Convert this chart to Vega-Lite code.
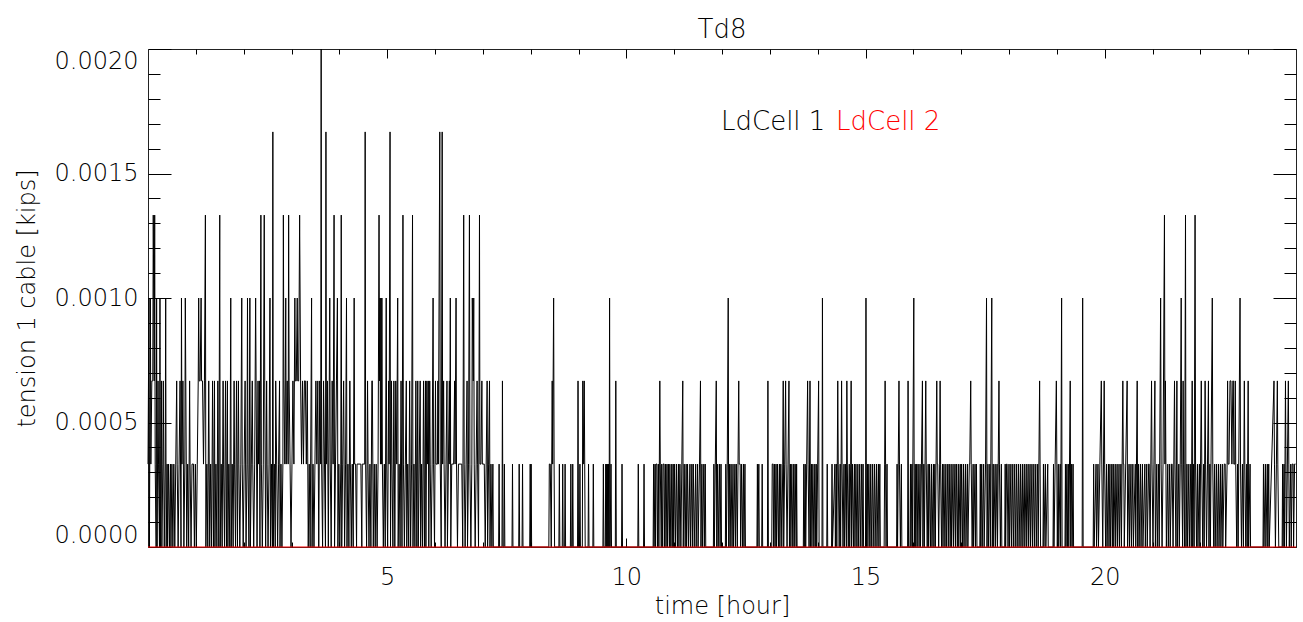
{
"$schema": "https://vega.github.io/schema/vega-lite/v6.json",
"width": 1148, "height": 498,
"autosize": {"type": "none"},
"padding": {"left": 148, "top": 49, "right": 7, "bottom": 75},
"title": {"text": "Td8", "fontSize": 26, "fontWeight": 200, "font": "DejaVu Sans", "color": "#000", "offset": 12, "dy": 8},
"datasets": {
"cell2": [{"t":0,"v":0},{"t":6,"v":0},{"t":12,"v":0},{"t":18,"v":0},{"t":24,"v":0}],
"cell1": [
{"t":0.00,"v":0.000333},{"t":0.02,"v":0.001},{"t":0.03,"v":0},{"t":0.05,"v":0.001},{"t":0.06,"v":0.000333},{"t":0.08,"v":0.000667},{"t":0.10,"v":0.000667},{"t":0.11,"v":0.001333},{"t":0.13,"v":0.000667},{"t":0.14,"v":0.001333},{"t":0.15,"v":0.000333},{"t":0.17,"v":0},{"t":0.18,"v":0.001},{"t":0.19,"v":0},{"t":0.21,"v":0.000667},{"t":0.22,"v":0.000333},{"t":0.24,"v":0},{"t":0.25,"v":0.001},{"t":0.26,"v":0},{"t":0.28,"v":0.000667},{"t":0.29,"v":0},{"t":0.31,"v":0.000333},{"t":0.32,"v":0.000667},{"t":0.34,"v":0},{"t":0.36,"v":0.000333},{"t":0.37,"v":0.001},{"t":0.38,"v":0},{"t":0.40,"v":0.000333},{"t":0.41,"v":0},{"t":0.43,"v":0.000333},{"t":0.45,"v":0},{"t":0.47,"v":0.000333},{"t":0.48,"v":0},{"t":0.50,"v":0.000333},{"t":0.52,"v":0},{"t":0.54,"v":0.000333},{"t":0.56,"v":0},{"t":0.58,"v":0.000333},{"t":0.60,"v":0.000667},{"t":0.61,"v":0.000333},{"t":0.63,"v":0},{"t":0.65,"v":0.000333},{"t":0.67,"v":0.000667},{"t":0.69,"v":0},{"t":0.70,"v":0.001},{"t":0.71,"v":0.000333},{"t":0.73,"v":0.000667},{"t":0.75,"v":0},{"t":0.77,"v":0.000333},{"t":0.78,"v":0.001},{"t":0.79,"v":0.000667},{"t":0.81,"v":0},{"t":0.83,"v":0.000333},{"t":0.85,"v":0},{"t":0.87,"v":0.000667},{"t":0.88,"v":0.000333},{"t":0.90,"v":0},{"t":0.92,"v":0.000333},{"t":0.95,"v":0.000333},{"t":0.97,"v":0},{"t":0.99,"v":0.000333},{"t":1.01,"v":0},
{"t":1.03,"v":0.000333},{"t":1.05,"v":0.000667},{"t":1.06,"v":0.001},{"t":1.07,"v":0.000667},{"t":1.09,"v":0.000667},{"t":1.11,"v":0.001},{"t":1.12,"v":0.000667},{"t":1.14,"v":0.000667},{"t":1.16,"v":0.000333},{"t":1.18,"v":0.000667},{"t":1.20,"v":0.001333},{"t":1.21,"v":0},{"t":1.23,"v":0.000333},{"t":1.25,"v":0},{"t":1.27,"v":0.000667},{"t":1.29,"v":0},{"t":1.31,"v":0.000333},{"t":1.33,"v":0},{"t":1.35,"v":0.000667},{"t":1.37,"v":0},{"t":1.39,"v":0.000667},{"t":1.40,"v":0},{"t":1.42,"v":0.000333},{"t":1.44,"v":0},{"t":1.46,"v":0.000667},{"t":1.48,"v":0},{"t":1.50,"v":0.001333},{"t":1.51,"v":0},{"t":1.53,"v":0.000333},{"t":1.55,"v":0},{"t":1.57,"v":0.000667},{"t":1.58,"v":0.000333},{"t":1.60,"v":0},{"t":1.62,"v":0.000667},{"t":1.64,"v":0},{"t":1.66,"v":0.000667},{"t":1.67,"v":0},{"t":1.69,"v":0.000333},{"t":1.71,"v":0},{"t":1.73,"v":0.001},{"t":1.74,"v":0},{"t":1.76,"v":0.000333},{"t":1.78,"v":0},{"t":1.80,"v":0.000667},{"t":1.81,"v":0.000333},{"t":1.83,"v":0},{"t":1.85,"v":0.000667},{"t":1.87,"v":0},{"t":1.89,"v":0.000667},{"t":1.90,"v":0.000333},{"t":1.92,"v":0},{"t":1.94,"v":0.000333},{"t":1.96,"v":0.001},{"t":1.97,"v":0.000333},{"t":1.99,"v":0},
{"t":2.01,"v":0.000333},{"t":2.03,"v":0.000667},{"t":2.05,"v":0},{"t":2.07,"v":0.000333},{"t":2.08,"v":0.001},{"t":2.09,"v":0.000333},{"t":2.11,"v":0},{"t":2.13,"v":0.001},{"t":2.14,"v":0},{"t":2.16,"v":0.000333},{"t":2.18,"v":0.000667},{"t":2.19,"v":0.000333},{"t":2.21,"v":0},{"t":2.23,"v":0.000333},{"t":2.25,"v":0.001},{"t":2.26,"v":0.000667},{"t":2.28,"v":0},{"t":2.30,"v":0.000667},{"t":2.31,"v":0.000333},{"t":2.33,"v":0.000667},{"t":2.34,"v":0},{"t":2.36,"v":0.001333},{"t":2.37,"v":0.000333},{"t":2.39,"v":0},{"t":2.41,"v":0.000333},{"t":2.43,"v":0.001333},{"t":2.44,"v":0.000667},{"t":2.46,"v":0},{"t":2.48,"v":0.000667},{"t":2.49,"v":0.000333},{"t":2.51,"v":0},{"t":2.53,"v":0.000333},{"t":2.55,"v":0.001},{"t":2.56,"v":0},{"t":2.58,"v":0.000333},{"t":2.60,"v":0},{"t":2.61,"v":0.001667},{"t":2.62,"v":0},{"t":2.64,"v":0.000333},{"t":2.66,"v":0},{"t":2.67,"v":0.000667},{"t":2.69,"v":0.000333},{"t":2.71,"v":0},{"t":2.73,"v":0.000333},{"t":2.75,"v":0.000667},{"t":2.76,"v":0},{"t":2.78,"v":0.000333},{"t":2.80,"v":0},{"t":2.82,"v":0.000333},{"t":2.83,"v":0.001333},{"t":2.84,"v":0.000667},{"t":2.86,"v":0.000333},{"t":2.88,"v":0.001},{"t":2.89,"v":0.000333},{"t":2.91,"v":0.000667},{"t":2.93,"v":0.000333},{"t":2.94,"v":0.001333},{"t":2.95,"v":0.000667},{"t":2.97,"v":0.000333},{"t":2.99,"v":0},
{"t":3.01,"v":0.000333},{"t":3.03,"v":0.000667},{"t":3.05,"v":0.000333},{"t":3.07,"v":0.001},{"t":3.08,"v":0.000667},{"t":3.10,"v":0.000667},{"t":3.12,"v":0.001},{"t":3.13,"v":0.000667},{"t":3.15,"v":0.000667},{"t":3.17,"v":0.001333},{"t":3.18,"v":0.001},{"t":3.19,"v":0.000667},{"t":3.21,"v":0.000333},{"t":3.23,"v":0.000667},{"t":3.25,"v":0.000333},{"t":3.27,"v":0.000667},{"t":3.29,"v":0.000667},{"t":3.31,"v":0.000333},{"t":3.33,"v":0.000667},{"t":3.35,"v":0},{"t":3.37,"v":0.000333},{"t":3.39,"v":0},{"t":3.41,"v":0.000667},{"t":3.42,"v":0.001},{"t":3.43,"v":0},{"t":3.45,"v":0.000333},{"t":3.47,"v":0},{"t":3.49,"v":0.000333},{"t":3.51,"v":0.000667},{"t":3.53,"v":0.000333},{"t":3.55,"v":0.000667},{"t":3.57,"v":0},{"t":3.59,"v":0.000667},{"t":3.61,"v":0.000333},{"t":3.62,"v":0.002},{"t":3.63,"v":0.000333},{"t":3.65,"v":0},{"t":3.67,"v":0.000667},{"t":3.69,"v":0.000333},{"t":3.71,"v":0},{"t":3.72,"v":0.001667},{"t":3.73,"v":0.000333},{"t":3.75,"v":0.000667},{"t":3.77,"v":0},{"t":3.79,"v":0.000667},{"t":3.80,"v":0.001},{"t":3.81,"v":0.000333},{"t":3.83,"v":0},{"t":3.85,"v":0.000667},{"t":3.87,"v":0.000333},{"t":3.89,"v":0.001333},{"t":3.90,"v":0},{"t":3.92,"v":0.000333},{"t":3.94,"v":0.000667},{"t":3.96,"v":0.001},{"t":3.97,"v":0},{"t":3.99,"v":0.000333},
{"t":4.01,"v":0},{"t":4.03,"v":0.000333},{"t":4.04,"v":0.001333},{"t":4.05,"v":0},{"t":4.07,"v":0.000333},{"t":4.09,"v":0.000667},{"t":4.11,"v":0},{"t":4.13,"v":0.000333},{"t":4.15,"v":0.001},{"t":4.16,"v":0},{"t":4.18,"v":0.000333},{"t":4.20,"v":0},{"t":4.22,"v":0.000667},{"t":4.23,"v":0.000333},{"t":4.25,"v":0},{"t":4.27,"v":0.000333},{"t":4.29,"v":0},{"t":4.31,"v":0.001},{"t":4.32,"v":0.000333},{"t":4.34,"v":0.000333},{"t":4.36,"v":0},{"t":4.37,"v":0.000333},{"t":4.45,"v":0.000333},{"t":4.47,"v":0},{"t":4.48,"v":0.000333},{"t":4.53,"v":0.000333},{"t":4.54,"v":0.001667},{"t":4.55,"v":0.000333},{"t":4.57,"v":0},{"t":4.59,"v":0.000667},{"t":4.60,"v":0.000333},{"t":4.62,"v":0},{"t":4.64,"v":0.000333},{"t":4.66,"v":0},{"t":4.68,"v":0.000667},{"t":4.69,"v":0.000667},{"t":4.71,"v":0},{"t":4.73,"v":0.000333},{"t":4.75,"v":0},{"t":4.77,"v":0.000333},{"t":4.79,"v":0},{"t":4.81,"v":0.000333},{"t":4.83,"v":0.001333},{"t":4.84,"v":0.000667},{"t":4.85,"v":0.001},{"t":4.86,"v":0.000333},{"t":4.87,"v":0.001},{"t":4.88,"v":0.000333},{"t":4.89,"v":0.001},{"t":4.90,"v":0.000333},{"t":4.92,"v":0},{"t":4.94,"v":0.000333},{"t":4.96,"v":0},{"t":4.98,"v":0.001},{"t":4.99,"v":0.000333},
{"t":5.01,"v":0},{"t":5.03,"v":0.000667},{"t":5.04,"v":0.000333},{"t":5.06,"v":0.001667},{"t":5.07,"v":0},{"t":5.09,"v":0.000667},{"t":5.10,"v":0.000333},{"t":5.12,"v":0},{"t":5.14,"v":0.000667},{"t":5.16,"v":0},{"t":5.18,"v":0.000667},{"t":5.20,"v":0.000333},{"t":5.22,"v":0.001},{"t":5.23,"v":0},{"t":5.25,"v":0.000333},{"t":5.27,"v":0},{"t":5.29,"v":0.000667},{"t":5.31,"v":0},{"t":5.33,"v":0.001333},{"t":5.34,"v":0.000333},{"t":5.36,"v":0},{"t":5.38,"v":0.000333},{"t":5.40,"v":0.000667},{"t":5.41,"v":0},{"t":5.43,"v":0.000333},{"t":5.45,"v":0},{"t":5.47,"v":0.000667},{"t":5.49,"v":0},{"t":5.51,"v":0.000333},{"t":5.53,"v":0.001333},{"t":5.54,"v":0},{"t":5.56,"v":0.000333},{"t":5.58,"v":0},{"t":5.60,"v":0.000667},{"t":5.62,"v":0},{"t":5.64,"v":0.000667},{"t":5.65,"v":0},{"t":5.67,"v":0.000333},{"t":5.69,"v":0.000667},{"t":5.70,"v":0},{"t":5.72,"v":0.000333},{"t":5.74,"v":0},{"t":5.76,"v":0.000667},{"t":5.78,"v":0},{"t":5.80,"v":0.000667},{"t":5.81,"v":0},{"t":5.83,"v":0.000667},{"t":5.84,"v":0.000333},{"t":5.86,"v":0.000667},{"t":5.87,"v":0},{"t":5.89,"v":0.000667},{"t":5.90,"v":0.000333},{"t":5.92,"v":0},{"t":5.94,"v":0.000333},{"t":5.96,"v":0.001},{"t":5.97,"v":0.000333},{"t":5.99,"v":0},
{"t":6.01,"v":0.000667},{"t":6.02,"v":0.000333},{"t":6.05,"v":0.000333},{"t":6.06,"v":0.000667},{"t":6.07,"v":0.000333},{"t":6.10,"v":0.001667},{"t":6.11,"v":0.000333},{"t":6.13,"v":0},{"t":6.15,"v":0.001667},{"t":6.16,"v":0.000333},{"t":6.18,"v":0.000667},{"t":6.19,"v":0.000333},{"t":6.21,"v":0},{"t":6.23,"v":0.000333},{"t":6.25,"v":0.000667},{"t":6.26,"v":0},{"t":6.28,"v":0.000333},{"t":6.30,"v":0.000667},{"t":6.31,"v":0.000333},{"t":6.32,"v":0.001},{"t":6.33,"v":0},{"t":6.35,"v":0.000333},{"t":6.39,"v":0.000333},{"t":6.41,"v":0.000667},{"t":6.42,"v":0.000333},{"t":6.44,"v":0.001},{"t":6.45,"v":0.000333},{"t":6.47,"v":0},{"t":6.49,"v":0.000333},{"t":6.56,"v":0.000333},{"t":6.58,"v":0},{"t":6.60,"v":0.001333},{"t":6.61,"v":0.000333},{"t":6.63,"v":0},{"t":6.65,"v":0.000333},{"t":6.67,"v":0.000667},{"t":6.68,"v":0},{"t":6.70,"v":0.000333},{"t":6.72,"v":0.001333},{"t":6.73,"v":0.000333},{"t":6.75,"v":0},{"t":6.77,"v":0.000333},{"t":6.78,"v":0.001},{"t":6.80,"v":0.000667},{"t":6.81,"v":0.001},{"t":6.82,"v":0.000333},{"t":6.84,"v":0},{"t":6.86,"v":0.000333},{"t":6.88,"v":0.000667},{"t":6.89,"v":0.000333},{"t":6.91,"v":0},{"t":6.93,"v":0.001333},{"t":6.94,"v":0.000333},{"t":6.96,"v":0.000333},{"t":6.98,"v":0.000667},{"t":6.99,"v":0.000333},{"t":7.03,"v":0.000333},{"t":7.05,"v":0},{"t":7.07,"v":0.000333},{"t":7.09,"v":0.000667},{"t":7.10,"v":0},{"t":7.12,"v":0.000333},{"t":7.14,"v":0.000667},{"t":7.15,"v":0},{"t":7.17,"v":0.000333},{"t":7.19,"v":0},
{"t":7.21,"v":0.000333},{"t":7.22,"v":0},{"t":7.33,"v":0},{"t":7.34,"v":0.000333},{"t":7.35,"v":0},{"t":7.40,"v":0},{"t":7.41,"v":0.000667},{"t":7.42,"v":0},{"t":7.44,"v":0},{"t":7.45,"v":0.000333},{"t":7.46,"v":0},{"t":7.61,"v":0},{"t":7.62,"v":0.000333},{"t":7.63,"v":0},{"t":7.75,"v":0},{"t":7.76,"v":0.000333},{"t":7.77,"v":0},{"t":7.82,"v":0},{"t":7.83,"v":0.000333},{"t":7.84,"v":0},{"t":7.98,"v":0},{"t":7.99,"v":0.000333},{"t":8.00,"v":0},{"t":8.01,"v":0.000333},{"t":8.02,"v":0},{"t":8.38,"v":0},{"t":8.39,"v":0.000333},{"t":8.41,"v":0.000333},{"t":8.43,"v":0},{"t":8.45,"v":0.000667},{"t":8.46,"v":0.000333},{"t":8.48,"v":0.001},{"t":8.49,"v":0.000333},{"t":8.50,"v":0},{"t":8.59,"v":0},{"t":8.60,"v":0.000333},{"t":8.61,"v":0},{"t":8.66,"v":0},{"t":8.67,"v":0.000333},{"t":8.68,"v":0},{"t":8.71,"v":0},{"t":8.72,"v":0.000333},{"t":8.73,"v":0},{"t":8.83,"v":0},{"t":8.84,"v":0.000333},{"t":8.85,"v":0},{"t":8.87,"v":0},{"t":8.88,"v":0.000333},{"t":8.89,"v":0},{"t":8.98,"v":0},{"t":8.99,"v":0.000667},{"t":9.00,"v":0},{"t":9.02,"v":0},{"t":9.03,"v":0.000333},{"t":9.04,"v":0},{"t":9.08,"v":0},{"t":9.09,"v":0.000667},{"t":9.10,"v":0.000333},{"t":9.12,"v":0.000667},{"t":9.13,"v":0.000333},{"t":9.14,"v":0},{"t":9.20,"v":0},{"t":9.21,"v":0.000333},{"t":9.22,"v":0},{"t":9.30,"v":0},{"t":9.31,"v":0.000333},{"t":9.32,"v":0},{"t":9.51,"v":0},{"t":9.52,"v":0.000333},{"t":9.53,"v":0},{"t":9.56,"v":0},{"t":9.57,"v":0.000333},{"t":9.58,"v":0},
{"t":9.59,"v":0.000333},{"t":9.60,"v":0},{"t":9.61,"v":0.000333},{"t":9.62,"v":0},{"t":9.63,"v":0.000333},{"t":9.64,"v":0},{"t":9.65,"v":0.001},{"t":9.66,"v":0},{"t":9.68,"v":0.000333},{"t":9.69,"v":0},{"t":9.77,"v":0},{"t":9.78,"v":0.000667},{"t":9.79,"v":0},{"t":9.90,"v":0},{"t":9.91,"v":0.000333},{"t":9.92,"v":0},{"t":10.24,"v":0},{"t":10.25,"v":0.000333},{"t":10.26,"v":0},{"t":10.36,"v":0},{"t":10.37,"v":0.000333},{"t":10.38,"v":0},
{"t":10.56,"v":0},{"t":10.57,"v":0.000333},{"t":10.58,"v":0},{"t":10.60,"v":0.000333},{"t":10.61,"v":0},{"t":10.62,"v":0.000333},{"t":10.64,"v":0.000333},{"t":10.65,"v":0},{"t":10.67,"v":0.000333},{"t":10.68,"v":0},{"t":10.70,"v":0.000667},{"t":10.71,"v":0.000333},{"t":10.73,"v":0},{"t":10.74,"v":0.000333},{"t":10.76,"v":0},{"t":10.77,"v":0.000333},{"t":10.79,"v":0.000333},{"t":10.80,"v":0},{"t":10.82,"v":0.000333},{"t":10.83,"v":0},{"t":10.85,"v":0.000333},{"t":10.86,"v":0},{"t":10.88,"v":0.000333},{"t":10.90,"v":0},{"t":10.91,"v":0.000333},{"t":10.93,"v":0},{"t":10.95,"v":0.000333},{"t":10.96,"v":0},{"t":10.98,"v":0.000333},{"t":10.99,"v":0},{"t":11.01,"v":0.000333},{"t":11.03,"v":0},{"t":11.05,"v":0.000333},{"t":11.07,"v":0},{"t":11.09,"v":0.000333},{"t":11.10,"v":0},{"t":11.12,"v":0.000333},{"t":11.14,"v":0},{"t":11.16,"v":0.000333},{"t":11.18,"v":0.000667},{"t":11.19,"v":0},{"t":11.21,"v":0.000333},{"t":11.23,"v":0},{"t":11.25,"v":0.000333},{"t":11.26,"v":0},{"t":11.28,"v":0.000333},{"t":11.30,"v":0},{"t":11.33,"v":0.000333},{"t":11.34,"v":0},{"t":11.37,"v":0.000333},{"t":11.38,"v":0},{"t":11.40,"v":0.000333},{"t":11.42,"v":0},{"t":11.45,"v":0.000333},{"t":11.46,"v":0},{"t":11.49,"v":0.000333},{"t":11.50,"v":0},{"t":11.53,"v":0.000333},{"t":11.55,"v":0.000667},{"t":11.56,"v":0},{"t":11.58,"v":0.000333},{"t":11.59,"v":0},{"t":11.62,"v":0.000333},{"t":11.63,"v":0},{"t":11.65,"v":0.000333},{"t":11.66,"v":0},
{"t":11.82,"v":0},{"t":11.83,"v":0.000333},{"t":11.84,"v":0},{"t":11.86,"v":0.000333},{"t":11.88,"v":0.000667},{"t":11.89,"v":0},{"t":11.91,"v":0.000333},{"t":11.92,"v":0},{"t":11.95,"v":0.000333},{"t":11.96,"v":0},{"t":11.98,"v":0.000333},{"t":11.99,"v":0},{"t":12.07,"v":0},{"t":12.08,"v":0.000333},{"t":12.09,"v":0},{"t":12.11,"v":0.000333},{"t":12.13,"v":0.001},{"t":12.14,"v":0},{"t":12.16,"v":0.000333},{"t":12.17,"v":0},{"t":12.19,"v":0.000333},{"t":12.21,"v":0},{"t":12.23,"v":0.000333},{"t":12.24,"v":0},{"t":12.27,"v":0.000333},{"t":12.28,"v":0},{"t":12.30,"v":0.000333},{"t":12.32,"v":0},{"t":12.35,"v":0.000667},{"t":12.36,"v":0.000333},{"t":12.38,"v":0.000333},{"t":12.39,"v":0},{"t":12.41,"v":0.000333},{"t":12.43,"v":0},{"t":12.45,"v":0.000333},{"t":12.46,"v":0},{"t":12.48,"v":0.000333},{"t":12.49,"v":0},{"t":12.73,"v":0},{"t":12.74,"v":0.000333},{"t":12.75,"v":0},{"t":12.77,"v":0.000333},{"t":12.78,"v":0},{"t":12.83,"v":0},{"t":12.84,"v":0.000333},{"t":12.85,"v":0},{"t":12.95,"v":0},{"t":12.96,"v":0.000667},{"t":12.97,"v":0},
{"t":13.04,"v":0},{"t":13.05,"v":0.000333},{"t":13.07,"v":0.000333},{"t":13.08,"v":0},{"t":13.10,"v":0.000333},{"t":13.11,"v":0},{"t":13.13,"v":0.000333},{"t":13.14,"v":0},{"t":13.16,"v":0.000333},{"t":13.18,"v":0},{"t":13.20,"v":0.000333},{"t":13.21,"v":0},{"t":13.23,"v":0.000333},{"t":13.25,"v":0},{"t":13.27,"v":0.000333},{"t":13.28,"v":0.000667},{"t":13.29,"v":0},{"t":13.31,"v":0.000333},{"t":13.33,"v":0.000667},{"t":13.34,"v":0.000333},{"t":13.36,"v":0},{"t":13.38,"v":0.000333},{"t":13.40,"v":0.000667},{"t":13.41,"v":0},{"t":13.43,"v":0.000333},{"t":13.44,"v":0},{"t":13.46,"v":0.000333},{"t":13.48,"v":0},{"t":13.50,"v":0.000333},{"t":13.51,"v":0},{"t":13.53,"v":0.000333},{"t":13.55,"v":0},{"t":13.56,"v":0.000333},{"t":13.57,"v":0},{"t":13.70,"v":0},{"t":13.71,"v":0.000333},{"t":13.72,"v":0},{"t":13.74,"v":0.000333},{"t":13.75,"v":0},{"t":13.77,"v":0.000333},{"t":13.79,"v":0.000667},{"t":13.80,"v":0.000333},{"t":13.82,"v":0},{"t":13.84,"v":0.000667},{"t":13.85,"v":0},{"t":13.87,"v":0.000333},{"t":13.88,"v":0},{"t":13.90,"v":0.000333},{"t":13.92,"v":0},{"t":13.94,"v":0.000333},{"t":13.95,"v":0},{"t":13.97,"v":0.000333},{"t":13.98,"v":0},{"t":14.00,"v":0.000333},{"t":14.02,"v":0.000667},{"t":14.03,"v":0},{"t":14.09,"v":0},{"t":14.10,"v":0.001},{"t":14.11,"v":0},{"t":14.19,"v":0},{"t":14.20,"v":0.000333},{"t":14.21,"v":0},{"t":14.29,"v":0},{"t":14.30,"v":0.000333},{"t":14.31,"v":0},
{"t":14.36,"v":0.000333},{"t":14.37,"v":0},{"t":14.39,"v":0.000333},{"t":14.40,"v":0},{"t":14.42,"v":0.000667},{"t":14.43,"v":0.000333},{"t":14.45,"v":0},{"t":14.47,"v":0.000333},{"t":14.48,"v":0},{"t":14.50,"v":0.000667},{"t":14.51,"v":0.000333},{"t":14.53,"v":0},{"t":14.55,"v":0.000333},{"t":14.56,"v":0},{"t":14.58,"v":0.000333},{"t":14.60,"v":0},{"t":14.61,"v":0.000667},{"t":14.62,"v":0.000333},{"t":14.64,"v":0},{"t":14.66,"v":0.000333},{"t":14.67,"v":0},{"t":14.69,"v":0.000333},{"t":14.70,"v":0.000667},{"t":14.71,"v":0},{"t":14.73,"v":0.000333},{"t":14.75,"v":0},{"t":14.77,"v":0.000333},{"t":14.78,"v":0},{"t":14.80,"v":0.000333},{"t":14.82,"v":0},{"t":14.84,"v":0.000333},{"t":14.85,"v":0},{"t":14.88,"v":0.000333},{"t":14.89,"v":0},{"t":14.92,"v":0.000333},{"t":14.93,"v":0},{"t":14.95,"v":0.000333},{"t":14.96,"v":0},{"t":15.00,"v":0},{"t":15.01,"v":0.001},{"t":15.02,"v":0},{"t":15.04,"v":0.000333},{"t":15.05,"v":0},{"t":15.07,"v":0.000333},{"t":15.09,"v":0},{"t":15.11,"v":0.000333},{"t":15.12,"v":0},{"t":15.15,"v":0.000333},{"t":15.16,"v":0},{"t":15.19,"v":0.000333},{"t":15.20,"v":0},{"t":15.23,"v":0.000333},{"t":15.24,"v":0},{"t":15.27,"v":0.000333},{"t":15.28,"v":0},{"t":15.30,"v":0.000333},{"t":15.31,"v":0},{"t":15.39,"v":0},{"t":15.40,"v":0.000333},{"t":15.41,"v":0.000667},{"t":15.42,"v":0.000333},{"t":15.43,"v":0},{"t":15.45,"v":0.000333},{"t":15.46,"v":0},{"t":15.65,"v":0},{"t":15.66,"v":0.000333},{"t":15.67,"v":0},{"t":15.70,"v":0.000667},{"t":15.71,"v":0.000333},{"t":15.73,"v":0},{"t":15.75,"v":0.000333},{"t":15.76,"v":0},{"t":15.88,"v":0},{"t":15.89,"v":0.000667},{"t":15.90,"v":0},
{"t":15.93,"v":0},{"t":15.94,"v":0.000333},{"t":15.95,"v":0},{"t":15.97,"v":0.000333},{"t":15.98,"v":0},{"t":16.01,"v":0.001},{"t":16.02,"v":0},{"t":16.04,"v":0.000333},{"t":16.05,"v":0},{"t":16.07,"v":0.000333},{"t":16.08,"v":0},{"t":16.10,"v":0.000333},{"t":16.12,"v":0},{"t":16.14,"v":0.000333},{"t":16.15,"v":0},{"t":16.17,"v":0.000333},{"t":16.19,"v":0.000667},{"t":16.20,"v":0},{"t":16.22,"v":0.000333},{"t":16.23,"v":0},{"t":16.26,"v":0.000667},{"t":16.27,"v":0.000333},{"t":16.29,"v":0},{"t":16.31,"v":0.000333},{"t":16.32,"v":0},{"t":16.34,"v":0.000333},{"t":16.36,"v":0},{"t":16.38,"v":0.000333},{"t":16.39,"v":0},{"t":16.42,"v":0.000333},{"t":16.43,"v":0},{"t":16.45,"v":0.000333},{"t":16.46,"v":0},{"t":16.49,"v":0.000667},{"t":16.50,"v":0.000333},{"t":16.51,"v":0.000333},{"t":16.53,"v":0},{"t":16.55,"v":0.000333},{"t":16.56,"v":0.000667},{"t":16.57,"v":0.000333},{"t":16.59,"v":0},{"t":16.61,"v":0.000333},{"t":16.62,"v":0},{"t":16.64,"v":0.000333},{"t":16.66,"v":0},{"t":16.68,"v":0.000333},{"t":16.69,"v":0},{"t":16.72,"v":0.000333},{"t":16.73,"v":0},{"t":16.75,"v":0.000333},{"t":16.77,"v":0},{"t":16.79,"v":0.000333},{"t":16.80,"v":0},{"t":16.83,"v":0.000333},{"t":16.84,"v":0},{"t":16.87,"v":0.000333},{"t":16.88,"v":0},{"t":16.90,"v":0.000333},{"t":16.92,"v":0},{"t":16.94,"v":0.000333},{"t":16.95,"v":0},{"t":16.98,"v":0.000333},{"t":16.99,"v":0},
{"t":17.01,"v":0.000333},{"t":17.03,"v":0},{"t":17.05,"v":0.000333},{"t":17.06,"v":0},{"t":17.09,"v":0.000333},{"t":17.10,"v":0},{"t":17.13,"v":0.000333},{"t":17.14,"v":0},{"t":17.17,"v":0.000333},{"t":17.18,"v":0.000333},{"t":17.20,"v":0.000667},{"t":17.21,"v":0.000333},{"t":17.23,"v":0},{"t":17.25,"v":0.000333},{"t":17.26,"v":0},{"t":17.29,"v":0.000333},{"t":17.30,"v":0},{"t":17.32,"v":0.000333},{"t":17.33,"v":0},{"t":17.39,"v":0},{"t":17.40,"v":0.000333},{"t":17.41,"v":0},{"t":17.43,"v":0.000333},{"t":17.44,"v":0},{"t":17.47,"v":0.000333},{"t":17.48,"v":0},{"t":17.51,"v":0.000333},{"t":17.53,"v":0.001},{"t":17.54,"v":0},{"t":17.56,"v":0.000333},{"t":17.57,"v":0},{"t":17.60,"v":0.000333},{"t":17.61,"v":0},{"t":17.64,"v":0.001},{"t":17.65,"v":0},{"t":17.67,"v":0.000333},{"t":17.68,"v":0},{"t":17.71,"v":0.000333},{"t":17.72,"v":0},{"t":17.75,"v":0.000333},{"t":17.76,"v":0},{"t":17.79,"v":0.000667},{"t":17.80,"v":0.000333},{"t":17.82,"v":0},{"t":17.84,"v":0.000333},{"t":17.85,"v":0},
{"t":17.91,"v":0},{"t":17.92,"v":0.000333},{"t":17.93,"v":0},{"t":17.95,"v":0.000333},{"t":17.96,"v":0.000333},{"t":17.98,"v":0},{"t":18.00,"v":0.000333},{"t":18.01,"v":0},{"t":18.04,"v":0.000333},{"t":18.05,"v":0},{"t":18.08,"v":0.000333},{"t":18.09,"v":0},{"t":18.12,"v":0.000333},{"t":18.13,"v":0},{"t":18.16,"v":0.000333},{"t":18.17,"v":0},{"t":18.20,"v":0.000333},{"t":18.21,"v":0},{"t":18.24,"v":0.000333},{"t":18.25,"v":0},{"t":18.28,"v":0.000333},{"t":18.29,"v":0},{"t":18.32,"v":0.000333},{"t":18.33,"v":0},{"t":18.36,"v":0.000333},{"t":18.37,"v":0},{"t":18.40,"v":0.000333},{"t":18.41,"v":0},{"t":18.44,"v":0.000333},{"t":18.45,"v":0},{"t":18.48,"v":0.000333},{"t":18.49,"v":0},{"t":18.52,"v":0.000333},{"t":18.53,"v":0},{"t":18.56,"v":0.000333},{"t":18.57,"v":0},{"t":18.60,"v":0.000333},{"t":18.61,"v":0},{"t":18.64,"v":0.000667},{"t":18.65,"v":0.000333},{"t":18.66,"v":0},{"t":18.71,"v":0},{"t":18.72,"v":0.000333},{"t":18.73,"v":0},{"t":18.76,"v":0.000333},{"t":18.77,"v":0},{"t":18.81,"v":0.000333},{"t":18.82,"v":0},{"t":18.92,"v":0},{"t":18.93,"v":0.000333},{"t":18.94,"v":0},{"t":18.99,"v":0.000667},{"t":19.00,"v":0.000333},{"t":19.01,"v":0},{"t":19.03,"v":0.000333},{"t":19.04,"v":0},{"t":19.07,"v":0.000333},{"t":19.08,"v":0},{"t":19.10,"v":0.001},{"t":19.11,"v":0},{"t":19.14,"v":0},
{"t":19.17,"v":0},{"t":19.18,"v":0.000333},{"t":19.19,"v":0},{"t":19.21,"v":0.000333},{"t":19.22,"v":0},{"t":19.24,"v":0.000333},{"t":19.25,"v":0},{"t":19.28,"v":0.000667},{"t":19.29,"v":0},{"t":19.31,"v":0.000333},{"t":19.32,"v":0},{"t":19.34,"v":0.000333},{"t":19.35,"v":0},{"t":19.53,"v":0},{"t":19.54,"v":0.001},{"t":19.55,"v":0},{"t":19.76,"v":0},{"t":19.77,"v":0.000333},{"t":19.78,"v":0},{"t":19.82,"v":0.000333},{"t":19.83,"v":0},{"t":19.86,"v":0.000333},{"t":19.87,"v":0},{"t":19.93,"v":0.000667},{"t":19.94,"v":0.000333},{"t":19.96,"v":0},{"t":19.99,"v":0.000667},{"t":20.00,"v":0.000333},{"t":20.02,"v":0},{"t":20.04,"v":0.000333},{"t":20.05,"v":0},{"t":20.08,"v":0.000333},{"t":20.09,"v":0},{"t":20.11,"v":0.000333},{"t":20.12,"v":0},{"t":20.15,"v":0.000333},{"t":20.16,"v":0},{"t":20.18,"v":0.000333},{"t":20.19,"v":0},{"t":20.22,"v":0.000333},{"t":20.23,"v":0},{"t":20.26,"v":0.000333},{"t":20.27,"v":0},{"t":20.30,"v":0.000333},{"t":20.31,"v":0},{"t":20.34,"v":0.000333},{"t":20.35,"v":0},{"t":20.38,"v":0.000667},{"t":20.39,"v":0.000333},{"t":20.40,"v":0.000333},{"t":20.41,"v":0},{"t":20.47,"v":0.000667},{"t":20.48,"v":0},{"t":20.51,"v":0.000333},{"t":20.52,"v":0},{"t":20.55,"v":0.000333},{"t":20.56,"v":0},{"t":20.59,"v":0.000333},{"t":20.60,"v":0},{"t":20.64,"v":0.000333},{"t":20.65,"v":0},{"t":20.68,"v":0.000667},{"t":20.69,"v":0},{"t":20.71,"v":0.000333},{"t":20.72,"v":0},{"t":20.75,"v":0.000333},{"t":20.76,"v":0},{"t":20.79,"v":0.000333},{"t":20.80,"v":0},{"t":20.84,"v":0.000333},{"t":20.85,"v":0},{"t":20.88,"v":0.000333},{"t":20.89,"v":0},{"t":20.92,"v":0.000333},{"t":20.93,"v":0.000333},{"t":20.95,"v":0},{"t":20.98,"v":0.000667},{"t":20.99,"v":0.000333},
{"t":21.01,"v":0},{"t":21.03,"v":0.000333},{"t":21.05,"v":0.000667},{"t":21.06,"v":0},{"t":21.09,"v":0.000333},{"t":21.10,"v":0},{"t":21.13,"v":0.000333},{"t":21.14,"v":0},{"t":21.17,"v":0.001},{"t":21.18,"v":0.000333},{"t":21.20,"v":0},{"t":21.22,"v":0.000333},{"t":21.25,"v":0.001333},{"t":21.26,"v":0.000333},{"t":21.27,"v":0.000667},{"t":21.28,"v":0.000333},{"t":21.29,"v":0},{"t":21.32,"v":0.000333},{"t":21.33,"v":0},{"t":21.36,"v":0.000333},{"t":21.37,"v":0},{"t":21.40,"v":0.000333},{"t":21.41,"v":0.000333},{"t":21.43,"v":0},{"t":21.46,"v":0.000667},{"t":21.47,"v":0.000333},{"t":21.49,"v":0},{"t":21.51,"v":0.000667},{"t":21.52,"v":0},{"t":21.55,"v":0.000333},{"t":21.56,"v":0},{"t":21.58,"v":0.000333},{"t":21.60,"v":0.001},{"t":21.61,"v":0.000333},{"t":21.63,"v":0},{"t":21.64,"v":0.000667},{"t":21.65,"v":0.000333},{"t":21.67,"v":0},{"t":21.69,"v":0.001333},{"t":21.70,"v":0},{"t":21.72,"v":0.000333},{"t":21.73,"v":0},{"t":21.76,"v":0.000333},{"t":21.77,"v":0},{"t":21.80,"v":0.000333},{"t":21.81,"v":0},{"t":21.83,"v":0.000667},{"t":21.84,"v":0},{"t":21.86,"v":0.000333},{"t":21.87,"v":0},{"t":21.89,"v":0.001333},{"t":21.90,"v":0.000333},{"t":21.92,"v":0},{"t":21.94,"v":0.000333},{"t":21.95,"v":0},{"t":21.98,"v":0.000333},{"t":21.99,"v":0},
{"t":22.02,"v":0.000667},{"t":22.03,"v":0.000333},{"t":22.05,"v":0},{"t":22.07,"v":0.000333},{"t":22.08,"v":0},{"t":22.10,"v":0.000667},{"t":22.11,"v":0.000333},{"t":22.13,"v":0},{"t":22.15,"v":0.000333},{"t":22.17,"v":0.000667},{"t":22.18,"v":0},{"t":22.20,"v":0.000333},{"t":22.21,"v":0},{"t":22.25,"v":0.001},{"t":22.26,"v":0.000333},{"t":22.28,"v":0},{"t":22.30,"v":0.000333},{"t":22.31,"v":0},{"t":22.34,"v":0.000333},{"t":22.35,"v":0},{"t":22.38,"v":0.000333},{"t":22.39,"v":0},{"t":22.42,"v":0.000333},{"t":22.43,"v":0},{"t":22.46,"v":0.000333},{"t":22.47,"v":0},{"t":22.50,"v":0.000333},{"t":22.52,"v":0.000333},{"t":22.53,"v":0},{"t":22.56,"v":0.000333},{"t":22.57,"v":0.000667},{"t":22.58,"v":0.000333},{"t":22.60,"v":0.000333},{"t":22.62,"v":0.000667},{"t":22.64,"v":0.000667},{"t":22.66,"v":0.000333},{"t":22.68,"v":0.000667},{"t":22.69,"v":0.000667},{"t":22.70,"v":0.000333},{"t":22.72,"v":0.000333},{"t":22.73,"v":0.000667},{"t":22.74,"v":0.000333},{"t":22.76,"v":0},{"t":22.78,"v":0.000333},{"t":22.79,"v":0},{"t":22.83,"v":0.001},{"t":22.84,"v":0.000333},{"t":22.86,"v":0},{"t":22.88,"v":0.000333},{"t":22.90,"v":0},{"t":22.92,"v":0.000667},{"t":22.93,"v":0.000333},{"t":22.95,"v":0},{"t":22.97,"v":0.000333},{"t":22.98,"v":0},{"t":23.00,"v":0.000667},{"t":23.01,"v":0},{"t":23.04,"v":0.000333},{"t":23.05,"v":0},
{"t":23.31,"v":0},{"t":23.32,"v":0.000333},{"t":23.33,"v":0},{"t":23.36,"v":0.000333},{"t":23.37,"v":0},{"t":23.40,"v":0.000333},{"t":23.41,"v":0},{"t":23.43,"v":0.000333},{"t":23.44,"v":0},{"t":23.54,"v":0.000667},{"t":23.55,"v":0.000333},{"t":23.57,"v":0},{"t":23.59,"v":0.000333},{"t":23.61,"v":0.000667},{"t":23.62,"v":0.000333},{"t":23.64,"v":0},{"t":23.71,"v":0},{"t":23.72,"v":0.000333},{"t":23.73,"v":0},{"t":23.75,"v":0.000333},{"t":23.76,"v":0},{"t":23.78,"v":0.000667},{"t":23.79,"v":0.000333},{"t":23.80,"v":0},{"t":23.84,"v":0.000667},{"t":23.85,"v":0.000333},{"t":23.86,"v":0},{"t":23.89,"v":0.000333},{"t":23.90,"v":0},{"t":23.92,"v":0.000333},{"t":23.94,"v":0.000333},{"t":23.95,"v":0},{"t":23.97,"v":0.000333},{"t":23.99,"v":0.000333}
]
},
"layer": [
{
"data": {"name": "cell1"},
"mark": {"type": "line", "strokeWidth": 1},
"encoding": {
"x": {"field": "t", "type": "quantitative", "scale": {"domain": [0, 24], "nice": false, "zero": false},
 "axis": {"orient": "bottom", "values": [1,2,3,4,5,6,7,8,9,10,11,12,13,14,15,16,17,18,19,20,21,22,23], "labelExpr": "datum.value % 5 === 0 ? datum.label : ''", "labelOverlap": false, "labelFlush": false, "labelBound": false, "tickSize": {"condition": {"test": "datum.value % 5 === 0", "value": -9}, "value": -5}, "labelPadding": 27, "title": "time [hour]", "titlePadding": 1}},
"y": {"field": "v", "type": "quantitative", "scale": {"domain": [0, 0.002], "nice": false, "zero": false},
 "axis": {"orient": "left", "values": [0,0.0001,0.0002,0.0003,0.0004,0.0005,0.0006,0.0007,0.0008,0.0009,0.001,0.0011,0.0012,0.0013,0.0014,0.0015,0.0016,0.0017,0.0018,0.0019,0.002], "format": ".4f", "labelExpr": "round(datum.value*10000) % 5 === 0 ? datum.label : ''", "labelOverlap": false, "labelFlush": true, "labelBound": false, "tickSize": {"condition": {"test": "round(datum.value*10000) % 5 === 0", "value": -23}, "value": -12}, "labelPadding": 33, "title": "tension 1 cable [kips]", "titlePadding": 15}},
"color": {"datum": "LdCell 1", "type": "nominal", "scale": {"domain": ["LdCell 1", "LdCell 2"], "range": ["#000000", "#ff0000"]},
 "legend": {"orient": "none", "legendX": 574, "legendY": 60, "direction": "horizontal", "title": null, "symbolType": "circle", "symbolSize": 0, "symbolStrokeWidth": 0, "symbolOpacity": 0, "labelOffset": -27, "columnPadding": 10, "labelFontSize": 26, "labelFont": "DejaVu Sans", "labelFontWeight": 200, "labelLimit": 0, "padding": 0,
  "encode": {"labels": {"update": {"fill": {"signal": "datum.value === 'LdCell 2' ? '#ff0000' : '#000000'"}}}}}}
}
},
{
"data": {"name": "cell2"},
"mark": {"type": "line", "strokeWidth": 1.2},
"encoding": {
"x": {"field": "t", "type": "quantitative",
 "axis": {"orient": "top", "values": [1,2,3,4,5,6,7,8,9,10,11,12,13,14,15,16,17,18,19,20,21,22,23], "labels": false, "title": null, "tickSize": {"condition": {"test": "datum.value % 5 === 0", "value": -9}, "value": -5}}},
"y": {"field": "v", "type": "quantitative",
 "axis": {"orient": "right", "values": [0,0.0001,0.0002,0.0003,0.0004,0.0005,0.0006,0.0007,0.0008,0.0009,0.001,0.0011,0.0012,0.0013,0.0014,0.0015,0.0016,0.0017,0.0018,0.0019,0.002], "labels": false, "title": null, "tickSize": {"condition": {"test": "round(datum.value*10000) % 5 === 0", "value": -23}, "value": -12}}},
"color": {"datum": "LdCell 2", "type": "nominal"}
}
}
],
"resolve": {"axis": {"x": "independent", "y": "independent"}},
"config": {
"view": {"stroke": "#222", "strokeWidth": 1},
"axis": {"domain": false, "grid": false, "labelFont": "DejaVu Sans", "titleFont": "DejaVu Sans", "labelFontSize": 24, "titleFontSize": 24, "labelFontWeight": 200, "titleFontWeight": 200, "labelColor": "#000", "titleColor": "#000", "tickColor": "#000", "tickWidth": 1}
}
}
